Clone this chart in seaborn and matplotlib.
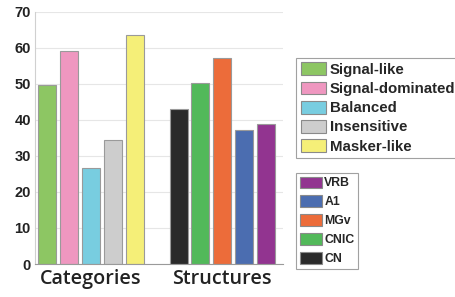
import pandas as pd
import seaborn as sns
import matplotlib.pyplot as plt
from matplotlib.patches import Patch

# Data
cat_names = ["Signal-like", "Signal-dominated", "Balanced", "Insensitive", "Masker-like"]
cat_values = [49.6, 59.0, 26.5, 34.5, 63.6]
cat_colors = ["#8dc663", "#ef97c0", "#78cde0", "#cdcdcd", "#f5ef78"]

struct_names = ["CN", "CNIC", "MGv", "A1", "VRB"]
struct_values = [43.0, 50.2, 57.1, 37.2, 38.9]
struct_colors = ["#2a2a2a", "#52b95a", "#ec6c3a", "#4b6db0", "#923490"]

group_labels = ["Categories", "Structures"]

# slots: categories 0-4, gap, structures 6-10
pos = list(range(5)) + list(range(6, 11))
df = pd.DataFrame({
    "pos": pos,
    "value": cat_values + struct_values,
    "name": cat_names + struct_names,
})
palette = dict(zip(cat_names + struct_names, cat_colors + struct_colors))

sns.set_style("white")
fig = plt.figure(figsize=(4.55, 2.97), dpi=100)
ax = fig.add_axes([0.077, 0.111, 0.545, 0.85])

sns.barplot(
    data=df, x="pos", y="value", hue="name", palette=palette,
    native_scale=True, dodge=False, legend=False, width=0.82,
    edgecolor="#9a9a9a", linewidth=0.8, saturation=1, ax=ax,
)

ax.set_xlim(-0.55, 10.77)
ax.set_ylim(0, 70)
ax.set_yticks(range(0, 71, 10))
ax.yaxis.grid(True, color="#e6e6e6", linewidth=0.8)
ax.set_axisbelow(True)
ax.set_xticks([2, 8])
ax.set_xticklabels(group_labels, fontsize=14.2, family="Open Sans",
                   fontweight="semibold", color="#222222")
ax.tick_params(axis="x", length=0, pad=3.5)
ax.tick_params(axis="y", length=0, pad=3)
for lab in ax.get_yticklabels():
    lab.set_fontweight("bold")
    lab.set_fontsize(10.5)
    lab.set_family("Liberation Sans")
    lab.set_color("#222222")
ax.set_xlabel("")
ax.set_ylabel("")
for s in ["top", "right"]:
    ax.spines[s].set_visible(False)
ax.spines["left"].set_color("#d0d0d0")
ax.spines["bottom"].set_color("#9a9a9a")

# legends
h1 = [Patch(facecolor=c, edgecolor="#8a8a8a", linewidth=0.8) for c in cat_colors]
leg1 = fig.legend(
    h1, cat_names, loc="upper left", bbox_to_anchor=(0.651, 0.805),
    prop={"family": "Liberation Sans", "weight": "bold", "size": 10.8},
    handlelength=1.7, handleheight=0.95, labelspacing=0.3, handletextpad=0.25,
    borderpad=0.3, borderaxespad=0, frameon=True, fancybox=False,
    edgecolor="#8a8a8a",
)
leg1.get_frame().set_linewidth(0.8)

h2 = [Patch(facecolor=c, edgecolor="#8a8a8a", linewidth=0.8) for c in struct_colors[::-1]]
leg2 = fig.legend(
    h2, struct_names[::-1], loc="upper left", bbox_to_anchor=(0.651, 0.418),
    prop={"family": "Liberation Sans", "weight": "bold", "size": 8.8},
    handlelength=1.8, handleheight=1.05, labelspacing=0.5, handletextpad=0.2,
    borderpad=0.3, borderaxespad=0, frameon=True, fancybox=False,
    edgecolor="#8a8a8a",
)
leg2.get_frame().set_linewidth(0.8)

fig.savefig("out.png", dpi=100)
